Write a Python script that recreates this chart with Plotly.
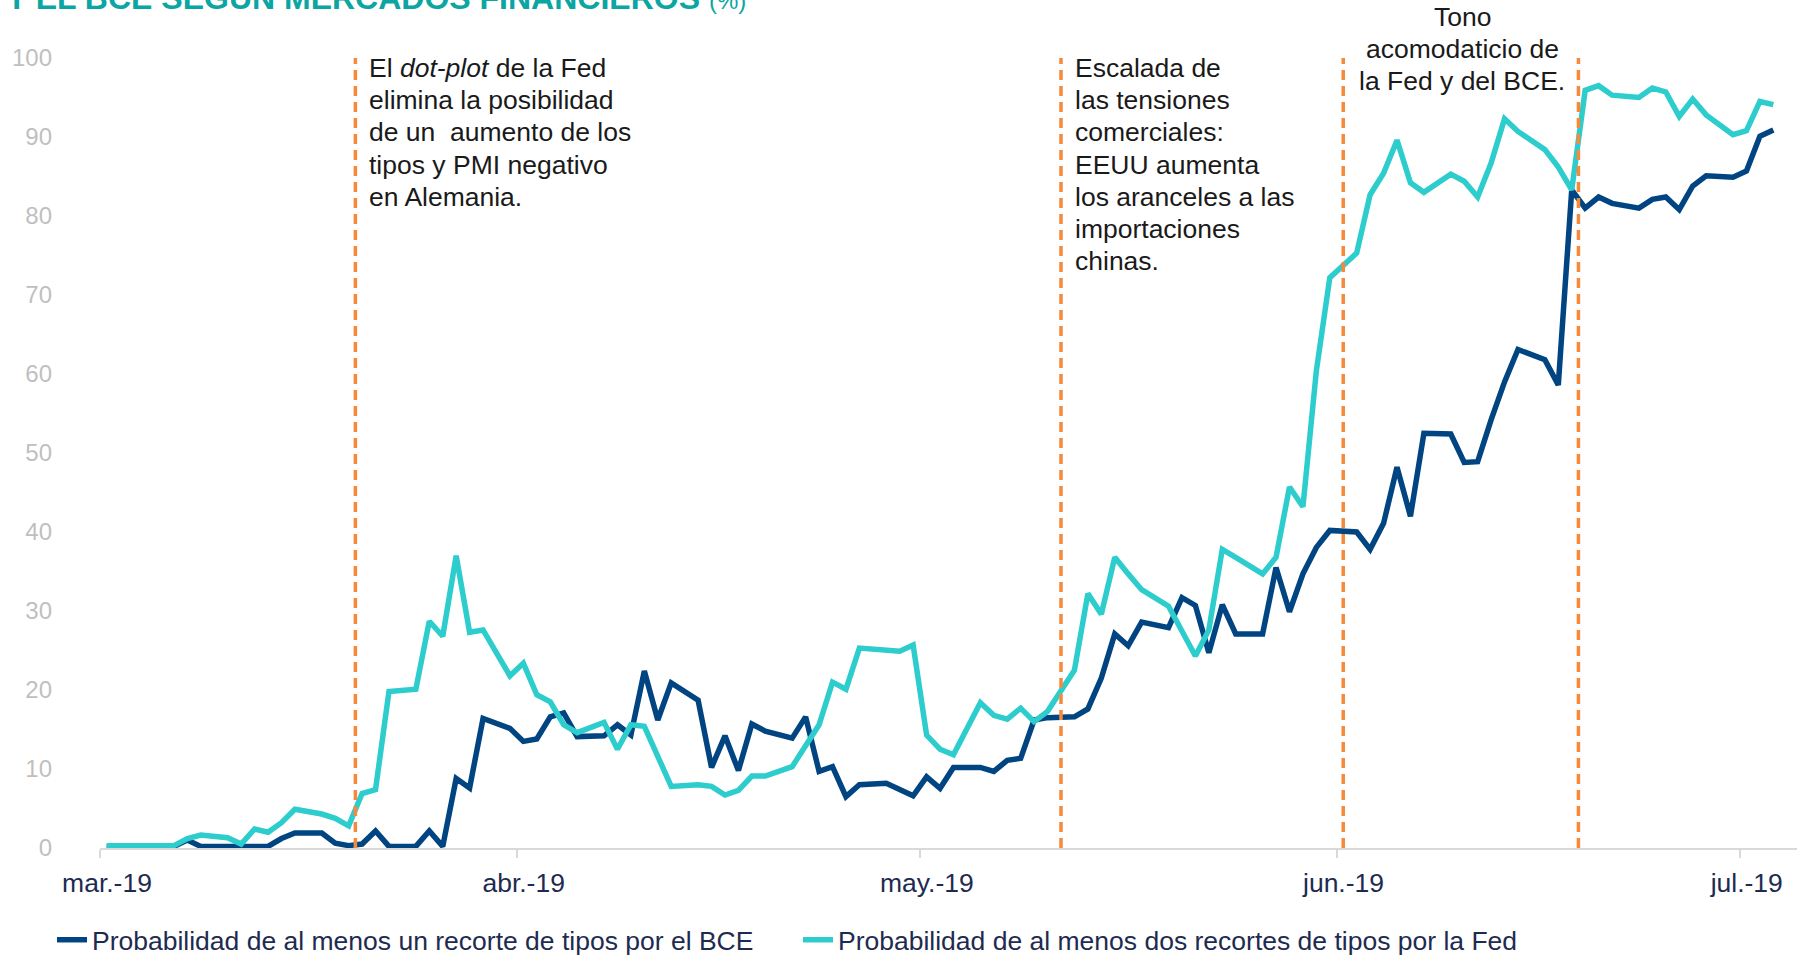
import pandas as pd
import plotly.graph_objects as go

# ---------------- data ----------------
# daily observations (Sunday to Friday, no Saturdays), 1 Mar 2019 - 3 Jul 2019
fechas = [d for d in pd.date_range("2019-03-01", "2019-07-03", freq="D") if d.weekday() != 5]

prob_bce = [0.2,
            0.2, 0.2, 0.2, 0.2, 1.0, 0.2,
            0.2, 0.2, 0.2, 0.2, 1.2, 1.9,
            1.9, 0.6, 0.3, 0.5, 2.15, 0.2,
            0.2, 2.15, 0.2, 8.8, 7.6, 16.4,
            15.15, 13.5, 13.8, 16.6, 17.1, 14.1,
            14.2, 15.6, 14.3, 22.4, 16.2, 20.9,
            18.7, 10.2, 14.2, 9.8, 15.7, 14.8,
            13.9, 16.6, 9.7, 10.3, 6.5, 8.0,
            8.2, 7.4, 6.6, 9.0, 7.55, 10.2,
            10.2, 9.7, 11.1, 11.35, 16.2, 16.5,
            16.6, 17.6, 21.5, 27.1, 25.6, 28.6,
            27.9, 31.7, 30.7, 24.7, 30.8, 27.1,
            27.1, 35.5, 29.9, 34.7, 38.05, 40.2,
            40.0, 37.8, 41.1, 48.2, 42.0, 52.5,
            52.4, 48.8, 48.9, 54.2, 59.0, 63.1,
            61.8, 58.6, 83.3, 81.0, 82.4, 81.6,
            81.0, 82.1, 82.4, 80.8, 83.8, 85.1,
            84.9, 85.7, 90.1, 90.9]

prob_fed = [0.3,
            0.3, 0.3, 0.3, 0.3, 1.2, 1.65,
            1.3, 0.5, 2.4, 2.0, 3.2, 4.9,
            4.3, 3.75, 2.8, 6.9, 7.4, 19.8,
            20.1, 28.7, 26.8, 37.0, 27.3, 27.6,
            21.8, 23.4, 19.4, 18.5, 15.6, 14.6,
            15.9, 12.5, 15.6, 15.4, 11.6, 7.8,
            8.0, 7.8, 6.7, 7.3, 9.1, 9.1,
            10.3, 12.8, 15.6, 21.0, 20.1, 25.3,
            25.1, 24.9, 25.7, 14.3, 12.5, 11.8,
            18.4, 16.8, 16.3, 17.7, 16.0, 17.3,
            22.5, 32.2, 29.6, 36.8, 34.7, 32.7,
            30.6, 27.4, 24.3, 27.6, 37.8, 36.8,
            34.7, 36.8, 45.7, 43.2, 60.4, 72.2,
            75.3, 82.7, 85.4, 89.6, 84.2, 83.0,
            85.3, 84.4, 82.4, 86.7, 92.3, 90.7,
            88.4, 86.2, 83.3, 95.9, 96.5, 95.3,
            95.0, 96.2, 95.7, 92.6, 94.8, 92.8,
            90.3, 90.8, 94.5, 94.1]

nombres = ["Probabilidad de al menos un recorte de tipos por el BCE",
           "Probabilidad de al menos dos recortes de tipos por la Fed"]

tick_fechas = ["2019-03-01", "2019-04-01", "2019-05-01", "2019-06-01", "2019-07-01"]
tick_textos = ["mar.-19", "abr.-19", "may.-19", "jun.-19", "jul.-19"]
y_ticks = [0, 10, 20, 30, 40, 50, 60, 70, 80, 90, 100]

eventos = ["2019-03-20 00:00", "2019-05-11 12:00", "2019-06-01 12:00", "2019-06-19 00:00"]

# ---------------- style ----------------
W, H = 1797, 955
ML, MR, MT, MB = 100, 0, 58, 107
PW, PH = W - ML - MR, H - MT - MB
FONT = "Liberation Sans, Arial, sans-serif"
NAVY = "#004481"
AQUA = "#2DCCCD"
ORANGE = "#F7893B"
TXT_AXIS = "#1E2B50"
TXT_NOTE = "#1A1A1A"


def px_x(px):
    return (px - ML) / PW


def px_y(py):
    return (H - MB - py) / PH


x_pts = [d + pd.Timedelta(hours=12) for d in fechas]

fig = go.Figure()
fig.add_trace(go.Scatter(x=x_pts, y=prob_bce, mode="lines", name=nombres[0],
                         line=dict(color=NAVY, width=5.5)))
fig.add_trace(go.Scatter(x=x_pts, y=prob_fed, mode="lines", name=nombres[1],
                         line=dict(color=AQUA, width=5.5)))

for ev in eventos:
    fig.add_shape(type="line", xref="x", yref="y", x0=ev, x1=ev, y0=0, y1=100,
                  line=dict(color=ORANGE, width=3.5, dash="10px,6px"))

annotations = []
# title (partly cut at top of the image, as in the original)
annotations.append(dict(
    text="<b>Y EL BCE SEGÚN MERCADOS FINANCIEROS</b> <span style='font-size:24px'>(%)</span>",
    xref="paper", yref="paper", x=px_x(4), y=px_y(-2), xanchor="left", yanchor="middle",
    showarrow=False, font=dict(family=FONT, size=32, color="#0BA5A3")))

notas = [
    (["El <i>dot-plot</i> de la Fed", "elimina la posibilidad", "de un  aumento de los",
      "tipos y PMI negativo", "en Alemania."], 367, 78, "left"),
    (["Escalada de", "las tensiones", "comerciales:", "EEUU aumenta",
      "los aranceles a las", "importaciones", "chinas."], 1073, 78, "left"),
    (["Tono", "acomodaticio de", "la Fed y del BCE."], 1462, 26.5, "center"),
]
for lineas, xpx, base0, anc in notas:
    for i, t in enumerate(lineas):
        base = base0 + 32 * i
        annotations.append(dict(
            text=t.replace("  ", "&nbsp; "), xref="paper", yref="paper", x=px_x(xpx),
            y=px_y(base - 9.5), xanchor=anc, yanchor="middle", showarrow=False,
            font=dict(family=FONT, size=26.5, color=TXT_NOTE)))

fig.update_layout(
    width=W, height=H,
    margin=dict(l=ML, r=MR, t=MT, b=MB, pad=0, autoexpand=False),
    paper_bgcolor="white", plot_bgcolor="white",
    font=dict(family=FONT),
    showlegend=True,
    legend=dict(orientation="h", x=px_x(52), xanchor="left", y=px_y(916), yanchor="top",
                font=dict(family=FONT, size=26.5, color=TXT_AXIS),
                bgcolor="rgba(0,0,0,0)", entrywidth=701, entrywidthmode="pixels"),
    annotations=annotations,
    xaxis=dict(type="date", range=["2019-03-01", "2019-07-05 06:15"],
               tickvals=tick_fechas, ticktext=tick_textos, automargin=False,
               ticks="outside", ticklen=8, tickwidth=2, tickcolor="#D9D9D9",
               showline=True, linecolor="#D9D9D9", linewidth=2,
               showgrid=False, zeroline=False, layer="below traces",
               tickfont=dict(family=FONT, size=26.5, color=TXT_AXIS),
               ticklabelshift=7, ticklabelstandoff=2),
    yaxis=dict(range=[0, 100], tickvals=y_ticks, showgrid=False, zeroline=False,
               showline=False, ticks="", ticklabelstandoff=47, automargin=False,
               tickfont=dict(family=FONT, size=24, color="#BFBFBF")),
)

fig.write_html("out.html", config={"displayModeBar": False},
               post_script="document.body.style.margin='0';document.body.style.overflow='hidden';")
